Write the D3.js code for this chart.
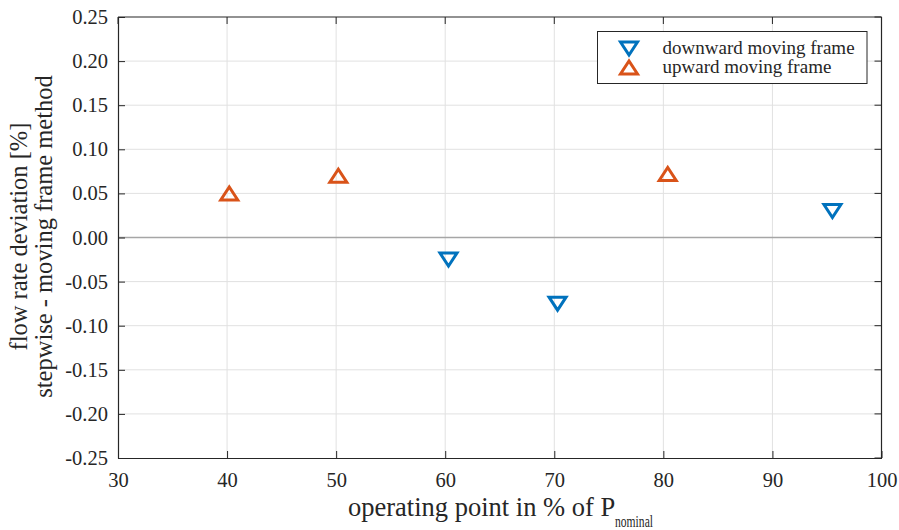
<!DOCTYPE html>
<html>
<head>
<meta charset="utf-8">
<script src="https://cdn.jsdelivr.net/npm/d3@7"></script>
<style>
  html, body { margin: 0; padding: 0; background: #fff; }
  svg { display: block; }
  text { font-family: "Liberation Serif", "Times New Roman", serif; fill: #262626; }
</style>
</head>
<body>
<svg id="chart" width="899" height="530"></svg>
<script>
// Measured operating points and deviations
const downwardX = [60.3, 70.3, 95.5];
const downwardY = [-0.025, -0.075, 0.030];
const upwardX = [40.2, 50.2, 80.4];
const upwardY = [0.050, 0.070, 0.072];

const xTicks = [30, 40, 50, 60, 70, 80, 90, 100];
const yTicks = [-0.25, -0.20, -0.15, -0.10, -0.05, 0.00, 0.05, 0.10, 0.15, 0.20, 0.25];

const seriesNames = ["downward moving frame", "upward moving frame"];
const seriesColors = ["#0072BD", "#D95319"];

const svg = d3.select("#chart");
const W = 899, H = 530;
const margin = { left: 118, right: W - 881.5, top: 17, bottom: H - 458 };

const x = d3.scaleLinear().domain([30, 100]).range([margin.left, W - margin.right]);
const y = d3.scaleLinear().domain([-0.25, 0.25]).range([H - margin.bottom, margin.top]);

// grid
const grid = svg.append("g");
grid.selectAll("line.vx").data(xTicks.slice(1, -1)).join("line")
  .attr("x1", d => x(d)).attr("x2", d => x(d))
  .attr("y1", y(-0.25)).attr("y2", y(0.25))
  .attr("stroke", "#e1e1e1").attr("stroke-width", 1);
grid.selectAll("line.hy").data(yTicks.slice(1, -1)).join("line")
  .attr("x1", x(30)).attr("x2", x(100))
  .attr("y1", d => y(d)).attr("y2", d => y(d))
  .attr("stroke", "#e1e1e1").attr("stroke-width", 1);

// zero reference line
svg.append("line")
  .attr("x1", x(30)).attr("x2", x(100))
  .attr("y1", y(0)).attr("y2", y(0))
  .attr("stroke", "#a6a6a6").attr("stroke-width", 1.5);

// axes (ticks pointing inward), hyphen-minus for negatives
const fmtY = d => d3.format(".2f")(d).replace("\u2212", "-");
const xAxis = svg.append("g").attr("transform", `translate(0,${y(-0.25)})`)
  .call(d3.axisBottom(x).tickValues(xTicks).tickSizeInner(-7).tickSizeOuter(0).tickPadding(14).tickFormat(d3.format("d")));
const yAxis = svg.append("g").attr("transform", `translate(${x(30)},0)`)
  .call(d3.axisLeft(y).tickValues(yTicks).tickSizeInner(-7).tickSizeOuter(0).tickPadding(10).tickFormat(fmtY));
[xAxis, yAxis].forEach(g => {
  g.attr("font-family", null).attr("font-size", null);
  g.select(".domain").attr("stroke", "#262626").attr("stroke-width", 1.2);
  g.selectAll(".tick line").attr("stroke", "#262626").attr("stroke-width", 1);
  g.selectAll(".tick text").attr("font-size", 20.5).attr("fill", "#262626");
});

// top and right box lines with their ticks
svg.append("line").attr("x1", x(30)).attr("x2", x(100)).attr("y1", y(0.25)).attr("y2", y(0.25))
  .attr("stroke", "#262626").attr("stroke-width", 1.2);
svg.append("line").attr("x1", x(100)).attr("x2", x(100)).attr("y1", y(0.25)).attr("y2", y(-0.25))
  .attr("stroke", "#262626").attr("stroke-width", 1.2);
svg.append("g").selectAll("line").data(xTicks).join("line")
  .attr("x1", d => x(d)).attr("x2", d => x(d)).attr("y1", y(0.25)).attr("y2", y(0.25) + 7)
  .attr("stroke", "#262626");
svg.append("g").selectAll("line").data(yTicks).join("line")
  .attr("x1", x(100)).attr("x2", x(100) - 7).attr("y1", d => y(d)).attr("y2", d => y(d))
  .attr("stroke", "#262626");

// triangle markers
const tri = (dir) => {
  const w = 8.5, h = 6.5;
  return dir === "down"
    ? `M${-w},${-h}L${w},${-h}L0,${h}Z`
    : `M${-w},${h}L${w},${h}L0,${-h}Z`;
};
const down = downwardX.map((v, i) => ({ x: v, y: downwardY[i] }));
const up = upwardX.map((v, i) => ({ x: v, y: upwardY[i] }));

svg.append("g").selectAll("path").data(down).join("path")
  .attr("transform", d => `translate(${x(d.x)},${y(d.y)})`)
  .attr("d", tri("down")).attr("fill", "none")
  .attr("stroke", seriesColors[0]).attr("stroke-width", 3);
svg.append("g").selectAll("path").data(up).join("path")
  .attr("transform", d => `translate(${x(d.x)},${y(d.y)})`)
  .attr("d", tri("up")).attr("fill", "none")
  .attr("stroke", seriesColors[1]).attr("stroke-width", 3);

// legend
const lg = svg.append("g");
lg.append("rect").attr("x", 597.5).attr("y", 31.5).attr("width", 269.5).attr("height", 52)
  .attr("fill", "#fff").attr("stroke", "#262626").attr("stroke-width", 1);
seriesNames.forEach((name, i) => {
  const cy = 48.5 + i * 19;
  lg.append("path").attr("transform", `translate(629,${cy})`)
    .attr("d", tri(i === 0 ? "down" : "up")).attr("fill", "none")
    .attr("stroke", seriesColors[i]).attr("stroke-width", 3);
  lg.append("text").attr("x", 662.5).attr("y", cy + 5.5)
    .attr("font-size", 19).text(name);
});

// axis titles
const xl = svg.append("text").attr("x", 348).attr("y", 515.5).attr("font-size", 26.5);
xl.append("tspan").text("operating point in % of P");
xl.append("tspan").attr("x", 615).attr("y", 526.5).attr("font-size", 17.5)
  .attr("textLength", 38).attr("lengthAdjust", "spacingAndGlyphs").text("nominal");

const yl = svg.append("text").attr("transform", `translate(0,${y(0) - 1}) rotate(-90)`)
  .attr("text-anchor", "middle").attr("font-size", 24.5);
yl.append("tspan").attr("x", 0).attr("y", 27).text("flow rate deviation [%]");
yl.append("tspan").attr("x", 0).attr("y", 52).text("stepwise - moving frame method");
</script>
</body>
</html>
